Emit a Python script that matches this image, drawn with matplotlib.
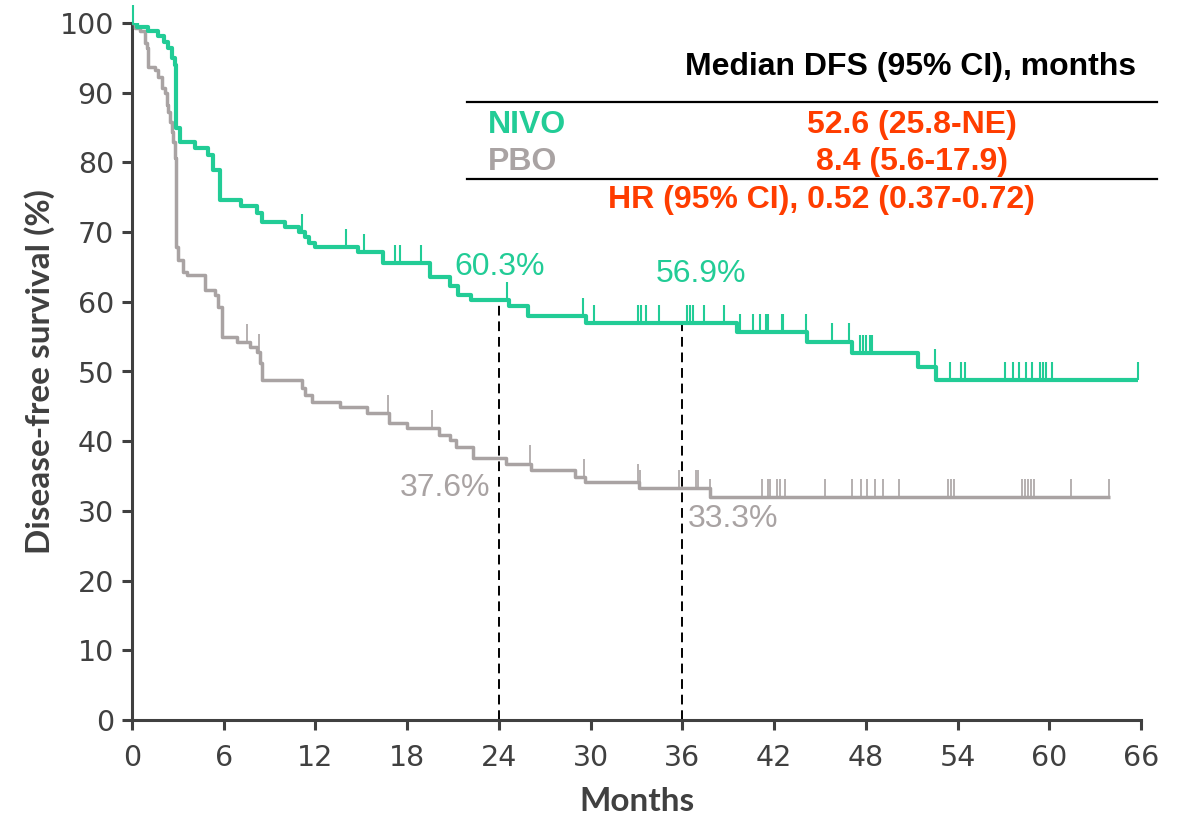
import numpy as np
import matplotlib
matplotlib.use("Agg")
import matplotlib.pyplot as plt
from matplotlib.lines import Line2D

# ---------------- data ----------------
nivo_t = [0, 0.3, 1.05, 1.7, 2.1, 2.35, 2.6, 2.8, 2.9, 3.15, 4.1, 5.0, 5.3, 5.75, 7.1, 8.2, 8.5,
          10.0, 10.9, 11.3, 11.6, 12.0, 14.8, 16.4, 19.5, 20.8, 21.3, 22.2, 24.65, 25.9, 29.7,
          39.6, 44.15, 47.1, 51.4, 52.6, 65.8]
nivo_s = [100, 99.4, 98.8, 98.1, 97.3, 96.4, 95.0, 94.0, 84.9, 82.9, 82.1, 81.1, 78.9, 74.6, 73.7, 72.7, 71.5,
          70.8, 70.0, 69.3, 68.4, 67.9, 67.1, 65.5, 63.6, 62.2, 61.0, 60.3, 59.4, 57.9, 56.9,
          55.7, 54.3, 52.7, 50.6, 48.8, 48.8]
nivo_cens = [0.05, 11.1, 14.0, 15.2, 17.2, 17.5, 18.9, 24.55, 29.5, 30.2, 33.1, 33.3, 33.6, 34.5,
             36.3, 36.5, 36.7, 37.4, 38.7, 39.8, 40.6, 41.1, 41.5, 41.6, 42.5, 42.6, 44.1, 45.8,
             46.9, 47.6, 47.8, 48.0, 48.3, 48.4, 52.5, 53.5, 54.2, 54.5, 57.1, 57.6, 58.0, 58.5,
             58.9, 59.4, 59.6, 59.8, 60.2, 65.8]

pbo_t = [0, 0.2, 0.5, 0.85, 1.0, 1.05, 1.5, 1.7, 1.95, 2.15, 2.3, 2.35, 2.5, 2.6, 2.7, 2.8, 2.86,
         2.91, 3.0, 3.35, 3.6, 4.8, 5.4, 5.6, 5.9, 6.9, 7.7, 8.15, 8.4, 8.5, 11.1, 11.3, 11.8,
         13.6, 15.35, 16.8, 18.0, 20.1, 20.8, 21.2, 22.3, 24.45, 26.1, 29.0, 29.6, 33.15, 37.8, 64.0]
pbo_s = [100, 99.3, 98.8, 97.1, 96.4, 93.7, 93.3, 92.3, 90.7, 90.0, 88.2, 87.2, 85.8, 84.4, 82.9, 80.6, 72.5,
         67.9, 66.0, 64.3, 63.9, 61.7, 61.0, 59.3, 55.0, 54.2, 53.5, 52.8, 51.2, 48.8, 47.6, 46.6, 45.6,
         44.9, 44.0, 42.6, 41.9, 40.9, 40.2, 39.2, 37.6, 36.8, 35.9, 34.9, 34.2, 33.3, 32.0, 32.0]
pbo_cens = [7.5, 8.3, 16.75, 19.6, 26.05, 29.55, 33.1, 33.2, 35.8, 36.9, 37.0, 37.8, 41.2, 41.6,
            41.7, 42.2, 42.4, 42.7, 45.3, 47.1, 47.7, 48.1, 48.6, 49.1, 50.2, 53.4, 53.6, 53.8,
            58.2, 58.4, 58.6, 58.8, 59.0, 61.4, 63.9]

landmark_months = [24, 36]
nivo_landmark = [60.3, 56.9]
pbo_landmark = [37.6, 33.3]

x_ticks = list(range(0, 67, 6))
y_ticks = list(range(0, 101, 10))

table_header = "Median DFS (95% CI), months"
arm_names = ["NIVO", "PBO"]
arm_medians = ["52.6 (25.8-NE)", "8.4 (5.6-17.9)"]
hr_text = "HR (95% CI), 0.52 (0.37-0.72)"

# ---------------- style ----------------
GREEN = "#22CC96"
GRAY = "#A9A3A3"
RED = "#FF3D00"
DARK = "#404040"

W, H = 1178, 822
fig = plt.figure(figsize=(W / 100, H / 100), dpi=100)
ax = fig.add_axes([132 / W, 1 - 720 / H, (1141 - 132) / W, (720 - 23) / H])


def step_value(t, s, x):
    idx = np.searchsorted(t, x, side="right") - 1
    return np.asarray(s)[idx]


ax.step(nivo_t, nivo_s, where="post", color=GREEN, lw=3.0, zorder=4, solid_capstyle="butt")
ax.step(pbo_t, pbo_s, where="post", color=GRAY, lw=2.5, zorder=3, solid_capstyle="butt")

tick_h = 2.6
nc = np.array(nivo_cens)
nv = step_value(nivo_t, nivo_s, nc)
ax.vlines(nc, nv, nv + tick_h, color=GREEN, lw=1.5, zorder=4, clip_on=False)
pc = np.array(pbo_cens)
pv = step_value(pbo_t, pbo_s, pc)
ax.vlines(pc, pv, pv + tick_h, color=GRAY, lw=1.2, zorder=3, clip_on=False)

for m, v in zip(landmark_months, nivo_landmark):
    ax.vlines(m, 0, v, colors="black", linestyles=(0, (5, 3)), lw=1.4, zorder=2)

pct_kw = dict(fontsize=23, family="Liberation Sans", ha="center", va="center")
ax.text(24.05, 65.0, f"{nivo_landmark[0]}%", color=GREEN, **pct_kw)
ax.text(37.2, 64.0, f"{nivo_landmark[1]}%", color=GREEN, **pct_kw)
ax.text(20.5, 33.3, f"{pbo_landmark[0]}%", color=GRAY, **pct_kw)
ax.text(39.3, 28.8, f"{pbo_landmark[1]}%", color=GRAY, **pct_kw)

ax.set_xlim(0, 66)
ax.set_ylim(0, 100)
ax.set_xticks(x_ticks)
ax.set_yticks(y_ticks)
for sp in ["top", "right"]:
    ax.spines[sp].set_visible(False)
for sp in ["left", "bottom"]:
    ax.spines[sp].set_color(DARK)
    ax.spines[sp].set_linewidth(2.2)
ax.tick_params(axis="both", length=7, width=2.2, color=DARK, labelcolor=DARK,
               labelsize=20.5)
ax.tick_params(axis="y", pad=6)
ax.tick_params(axis="x", pad=10)
for lab in ax.get_xticklabels() + ax.get_yticklabels():
    lab.set_family("DejaVu Sans")

ax.set_ylabel("Disease-free survival (%)", fontsize=24, fontweight="bold",
              family="Lato", color=DARK, labelpad=3)
ax.set_xlabel("Months", fontsize=24, fontweight="bold", family="Lato",
              color=DARK, labelpad=11)


def px(x, y):
    return x / W, 1 - y / H


tf = dict(family="Liberation Sans", fontweight="bold", fontsize=23)
fig.text(*px(911, 67), table_header, color="black", ha="center", va="center", **tf)
fig.add_artist(Line2D([467 / W, 1157 / W], [1 - 102 / H] * 2, color="black", lw=1.6))
fig.add_artist(Line2D([467 / W, 1157 / W], [1 - 179 / H] * 2, color="black", lw=1.6))
fig.text(*px(488, 125), arm_names[0], color=GREEN, ha="left", va="center", **tf)
fig.text(*px(488, 162), arm_names[1], color=GRAY, ha="left", va="center", **tf)
fig.text(*px(912, 125), arm_medians[0], color=RED, ha="center", va="center", **tf)
fig.text(*px(912, 162), arm_medians[1], color=RED, ha="center", va="center", **tf)
fig.text(*px(821, 200), hr_text, color=RED, ha="center", va="center", **tf)

fig.savefig("out.png", dpi=100)
